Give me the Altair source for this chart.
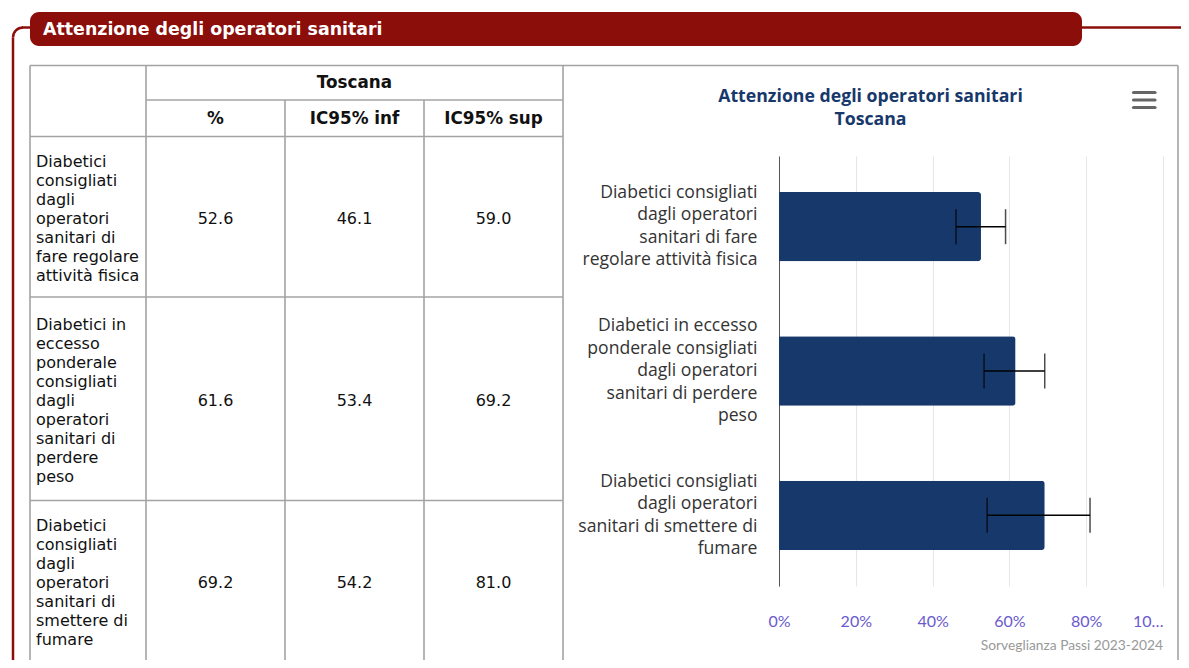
import altair as alt
import pandas as pd

# ---------------- data ----------------
section_title = "Attenzione degli operatori sanitari"
region = "Toscana"
col_headers = ["%", "IC95% inf", "IC95% sup"]
credits = "Sorveglianza Passi 2023-2024"

chart_label_lines = [
    ["Diabetici consigliati", "dagli operatori", "sanitari di fare", "regolare attività fisica"],
    ["Diabetici in eccesso", "ponderale consigliati", "dagli operatori", "sanitari di perdere", "peso"],
    ["Diabetici consigliati", "dagli operatori", "sanitari di smettere di", "fumare"],
]
table_label_lines = [
    ["Diabetici", "consigliati", "dagli", "operatori", "sanitari di", "fare regolare", "attività fisica"],
    ["Diabetici in", "eccesso", "ponderale", "consigliati", "dagli", "operatori", "sanitari di", "perdere", "peso"],
    ["Diabetici", "consigliati", "dagli", "operatori", "sanitari di", "smettere di", "fumare"],
]
pct = [52.6, 61.6, 69.2]
ic_inf = [46.1, 53.4, 54.2]
ic_sup = [59.0, 69.2, 81.0]
x_ticks = [0, 20, 40, 60, 80, 100]

# ---------------- layout (page pixels) ----------------
OX, OY = 779, 156          # plot-area origin on the page
W, H = 384, 430            # plot-area size


def px(v):
    return v - OX


def py(v):
    return v - OY


RED = "#8b0e0a"
LINE = "#a3a3a3"
NAVY = "#17386b"
TFONT = "DejaVu Sans"
CFONT = "Open Sans"

col_edges = [30, 146, 285, 424, 563]
row_edges = [136.5, 297, 500.5, 661]
table_top, header_mid, box_right = 65.5, 100, 1178
TLH = 19    # table line height
YLH = 22.5  # chart label line height

# ---------------- bar chart ----------------
cats = ["|".join(l) for l in chart_label_lines]
bars_df = pd.DataFrame({"cat": cats, "pct": pct, "lo": ic_inf, "hi": ic_sup})

xscale = alt.Scale(domain=[0, 100], nice=False, zero=True)
yscale = alt.Scale(domain=cats, paddingInner=0.52, paddingOuter=0.25)

base = alt.Chart(bars_df)
bars = base.mark_bar(color=NAVY, cornerRadiusEnd=3).encode(
    x=alt.X(
        "pct:Q",
        scale=xscale,
        axis=alt.Axis(
            title=None, values=x_ticks, ticks=False, domain=False, grid=True,
            gridColor="#e6e6e6", gridWidth=1,
            labelExpr="datum.value == 100 ? '10…' : datum.value + '%'",
            labelAlign=alt.condition("datum.value == 100", alt.value("right"), alt.value("center")),
            labelColor="#6a5acd", labelFont="Lato", labelFontSize=16, labelPadding=27,
        ),
    ),
    y=alt.Y(
        "cat:N",
        sort=cats,
        scale=yscale,
        axis=alt.Axis(
            title=None, ticks=False, domain=True, domainColor="#555555", domainWidth=1,
            grid=False, labelExpr="split(datum.label, '|')", labelFont=CFONT,
            labelFontSize=17.6, labelColor="#333333", labelPadding=22,
            labelLineHeight=YLH, labelLimit=400,
            labelOffset=alt.condition(
                "length(split(datum.value, '|')) == 5",
                alt.value(-2 * YLH), alt.value(-1.5 * YLH),
            ),
        ),
    ),
)
err_rule = base.mark_rule(color="black", strokeWidth=1.5).encode(
    x=alt.X("lo:Q", scale=xscale, axis=None),
    x2="hi:Q",
    y=alt.Y("cat:N", sort=cats, scale=yscale, axis=None),
)
cap_lo = base.mark_tick(color="black", thickness=1.5, size=35).encode(
    x=alt.X("lo:Q", scale=xscale, axis=None),
    y=alt.Y("cat:N", sort=cats, scale=yscale, axis=None),
)
cap_hi = base.mark_tick(color="black", thickness=1.5, size=35).encode(
    x=alt.X("hi:Q", scale=xscale, axis=None),
    y=alt.Y("cat:N", sort=cats, scale=yscale, axis=None),
)

# ---------------- decorations (pixel space) ----------------
def pix_rules(segments, color, width, cap="butt"):
    df = pd.DataFrame(segments, columns=["x", "x2", "y", "y2"])
    df = df.assign(x=df.x - OX, x2=df.x2 - OX, y=df.y - OY, y2=df.y2 - OY)
    return alt.Chart(df).mark_rule(color=color, strokeWidth=width, strokeCap=cap).encode(
        x=alt.X("x:Q", scale=None, axis=None), x2="x2:Q",
        y=alt.Y("y:Q", scale=None, axis=None), y2="y2:Q",
    )


one = pd.DataFrame({"k": [0]})

frame = pix_rules(
    [(1082, 1195, 27.5, 27.5), (22, 31, 27.5, 27.5), (13, 13, 37.5, 680)], RED, 2.5
)
frame_arc = alt.Chart(one).mark_arc(
    color=RED, radius=11.25, radius2=8.75, theta=4.7124, theta2=6.2832
).encode(x=alt.value(px(23)), y=alt.value(py(37.5)))

banner = alt.Chart(one).mark_rect(color=RED, cornerRadius=9).encode(
    x=alt.value(px(30)), x2=alt.value(px(1082)), y=alt.value(py(12)), y2=alt.value(py(46))
)
banner_text = alt.Chart(one).mark_text(
    text=section_title, color="white", font=TFONT, fontWeight="bold", fontSize=17.4,
    align="left", baseline="middle",
).encode(x=alt.value(px(43)), y=alt.value(py(29.5)))

h_lines = [(30, box_right, table_top, table_top), (30, box_right, 661, 661),
           (col_edges[1], col_edges[4], header_mid, header_mid)] + \
          [(30, col_edges[4], r, r) for r in row_edges[:3]]
v_lines = [(30, 30, table_top, 661), (col_edges[1], col_edges[1], table_top, 661),
           (col_edges[2], col_edges[2], header_mid, 661), (col_edges[3], col_edges[3], header_mid, 661),
           (col_edges[4], col_edges[4], table_top, 661), (box_right, box_right, table_top, 661)]
table_lines = pix_rules(h_lines + v_lines, LINE, 1.6)

# table texts
hdr = [{"tx": (col_edges[1] + col_edges[4]) / 2, "ty": 83, "t": region}]
for j, h in enumerate(col_headers):
    hdr.append({"tx": (col_edges[j + 1] + col_edges[j + 2]) / 2, "ty": 118.5, "t": h})
hdr_df = pd.DataFrame(hdr)
hdr_df = hdr_df.assign(tx=hdr_df.tx - OX, ty=hdr_df.ty - OY)

vals, labs = [], []
for i in range(3):
    cy = (row_edges[i] + row_edges[i + 1]) / 2 + 2
    for j, v in enumerate([pct[i], ic_inf[i], ic_sup[i]]):
        vals.append({"tx": (col_edges[j + 1] + col_edges[j + 2]) / 2 - OX, "ty": cy - OY, "t": f"{v:.1f}"})
    n = len(table_label_lines[i])
    labs.append({"tx": 36 - OX, "ty": cy - (n - 1) * TLH / 2 - OY, "t": "\n".join(table_label_lines[i])})
vals_df = pd.DataFrame(vals)
labs_df = pd.DataFrame(labs)


def pix_text(df, **kw):
    return alt.Chart(df).mark_text(baseline="middle", font=TFONT, **kw).encode(
        x=alt.X("tx:Q", scale=None, axis=None),
        y=alt.Y("ty:Q", scale=None, axis=None),
        text="t:N",
    )


header_text = pix_text(hdr_df, fontWeight="bold", fontSize=16.8, align="center", color="#111111")
value_text = pix_text(vals_df, fontSize=16, align="center", color="#111111")
label_text = pix_text(labs_df, fontSize=16, align="left", color="#111111", lineBreak="\n", lineHeight=TLH)

chart_title = alt.Chart(one).mark_text(
    text=section_title + "\n" + region, lineBreak="\n", lineHeight=23,
    color=NAVY, font=CFONT, fontWeight="bold", fontSize=17.7, align="center", baseline="middle",
).encode(x=alt.value(px(870.5)), y=alt.value(py(96.5)))

menu = pix_rules([(1133.5, 1155, y, y) for y in (92.5, 100, 107.5)], "#666666", 3.2, cap="round")

credits_text = alt.Chart(one).mark_text(
    text=credits, color="#999999", font="Lato", fontSize=13.8, align="right", baseline="middle",
).encode(x=alt.value(px(1163)), y=alt.value(py(646)))

chart = (
    alt.layer(
        bars, err_rule, cap_lo, cap_hi,
        frame, frame_arc, banner, banner_text, table_lines, header_text, value_text,
        label_text, chart_title, menu, credits_text,
    )
    .resolve_scale(x="independent", y="independent")
    .properties(
        width=W, height=H,
        autosize=alt.AutoSizeParams(type="none"),
        padding={"left": OX - 8, "top": OY - 8, "right": 1189 - 8 - OX - W, "bottom": 668 - 8 - OY - H},
        background="white",
    )
    .configure_view(strokeWidth=0)
)

chart.save("out.html", embed_options={"renderer": "svg", "actions": False})
